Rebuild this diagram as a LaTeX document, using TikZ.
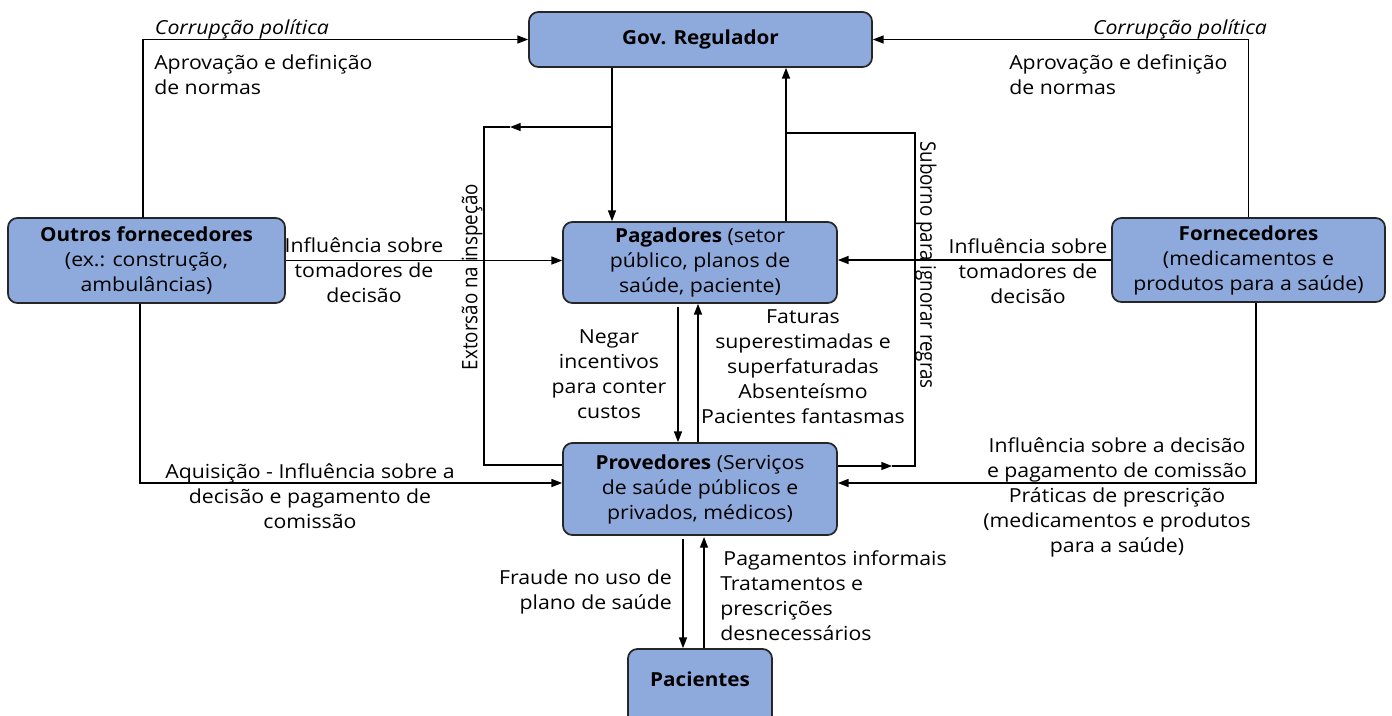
\documentclass[tikz,border=0pt]{standalone}
\usepackage{fontspec}
\setmainfont{Open Sans}[FakeStretch=1.1, BoldFeatures={FakeStretch=1.07}]
\newfontfamily\uprightfont{Open Sans}[FakeStretch=0.88]
\usetikzlibrary{arrows.meta}

\definecolor{boxblue}{RGB}{142,169,219}
\tikzset{
  actor/.style={draw=black!85, line width=1.3pt, fill=boxblue, rounded corners=7pt,
    align=center, inner sep=2pt, font=\fontsize{14.5pt}{18.75pt}\selectfont},
  lbl/.style={align=center, inner sep=0.75pt, font=\fontsize{14.5pt}{18.75pt}\selectfont},
  vlbl/.style={inner sep=0.75pt, font=\uprightfont\fontsize{16pt}{18.75pt}\selectfont},
  flow/.style={line width=1pt, -{Triangle[length=8pt,width=6pt]}},
  plain/.style={line width=1pt}
}

\begin{document}
\begin{tikzpicture}[x=0.75pt,y=0.75pt,yscale=-1,xscale=1]
\path[use as bounding box, clip] (0,0) rectangle (1392,715);

% boxes
\node[actor, minimum width=343*0.75pt, minimum height=55*0.75pt] (gov) at (700.5,39.5) {\textbf{Gov. Regulador}};
\node[actor, minimum width=274*0.75pt, minimum height=81*0.75pt] (pag) at (700,262.5) {\textbf{Pagadores} (setor\\público, planos de\\saúde, paciente)};
\node[actor, minimum width=274*0.75pt, minimum height=92*0.75pt] (prov) at (700,489) {\textbf{Provedores} (Serviços\\de saúde públicos e\\privados, médicos)};
\node[actor, minimum width=144*0.75pt, minimum height=76*0.75pt, text depth=0pt] (pac) at (700,687) {\raisebox{12pt}{\textbf{Pacientes}}};
\node[actor, minimum width=277*0.75pt, minimum height=85*0.75pt] (outros) at (146.5,260.5) {\textbf{Outros fornecedores}\\(ex.: construção,\\ambulâncias)};
\node[actor, minimum width=273*0.75pt, minimum height=84*0.75pt] (forn) at (1248.5,260) {\textbf{Fornecedores}\\(medicamentos e\\produtos para a saúde)};

% helper points
\coordinate (outTop) at (143,218);
\coordinate (extA) at (612,127);
\coordinate (extM) at (510,127);
\coordinate (extB) at (484,127);
\coordinate (extC) at (484,465);
\coordinate (subA) at (786,133);
\coordinate (subB) at (915,133);
\coordinate (subC) at (915,466);
\coordinate (subM) at (892,466);
\coordinate (negTop) at (678,307);
\coordinate (fatX) at (698,0);
\coordinate (aqA) at (140,483);
\coordinate (infA) at (1256,483);
\coordinate (fraTop) at (683,539);
\coordinate (pgTop) at (704,537);

% connectors
\draw[flow] (outTop) |- (gov.west);
\draw[flow] (forn.north) |- (gov.east);
\draw[flow] (gov.south -| extA) -- (pag.north -| extA);
\draw[flow] (extA) -- (extM);
\draw[plain] (extM) -- (extB) -- (extC) -- (prov.west |- extC);
\draw[flow] (pag.north -| subA) -- (gov.south -| subA);
\draw[flow] (prov.east |- subC) -- (subM);
\draw[plain] (subM) -- (subC) -- (subB) -- (subA);
\draw[flow] (outros.east) -- (outros.east -| pag.west);
\draw[flow] (forn.west) -- (forn.west -| pag.east);
\draw[flow] (negTop) -- (prov.north -| negTop);
\draw[flow] (prov.north -| fatX) -- (pag.south -| fatX);
\draw[flow] (outros.south -| aqA) -- (aqA) -- (prov.west |- aqA);
\draw[flow] (forn.south -| infA) -- (infA) -- (prov.east |- infA);
\draw[flow] (fraTop) -- (pac.north -| fraTop);
\draw[flow] (pac.north -| pgTop) -- (pgTop);

% labels
\node[lbl, font=\fontsize{14.5pt}{18.75pt}\selectfont\itshape] (corrL) at (242,29) {Corrupção política};
\node[lbl, anchor=west, align=left] (aprL) at (153,74.5) {Aprovação e definição\\de normas};
\node[lbl, font=\fontsize{14.5pt}{18.75pt}\selectfont\itshape] (corrR) at (1180,29) {Corrupção política};
\node[lbl, anchor=west, align=left] (aprR) at (1008,74.5) {Aprovação e definição\\de normas};
\node[vlbl, rotate=90] (extL) at (472,277) {Extorsão na inspeção};
\node[vlbl, rotate=-90] (subL) at (926,265) {Suborno para ignorar regras};
\node[lbl] (inflL) at (364,270) {Influência sobre\\tomadores de\\decisão};
\node[lbl] (inflR) at (1028,271) {Influência sobre\\tomadores de\\decisão};
\node[lbl] (negL) at (609,374) {Negar\\incentivos\\para conter\\custos};
\node[lbl] (fatL) at (803,367) {Faturas\\superestimadas e\\superfaturadas\\Absenteísmo\\Pacientes fantasmas};
\node[lbl] (aqL) at (310,496) {Aquisição - Influência sobre a\\decisão e pagamento de\\comissão};
\node[lbl] (infR) at (1117,497) {Influência sobre a decisão\\e pagamento de comissão\\Práticas de prescrição\\(medicamentos e produtos\\para a saúde)};
\node[lbl, anchor=east, align=right] (fraL) at (673,592) {Fraude no uso de\\plano de saúde};
\node[lbl, anchor=west, align=left] (pgL) at (719,595.5) {\,Pagamentos informais\\Tratamentos e\\prescrições\\desnecessários};

\end{tikzpicture}
\end{document}
